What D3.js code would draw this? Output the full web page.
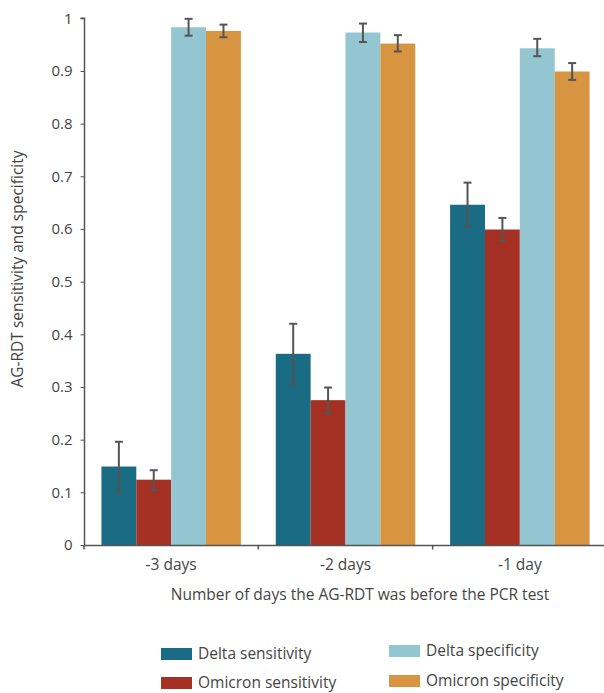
<!DOCTYPE html>
<html><head><meta charset="utf-8">
<script src="https://cdn.jsdelivr.net/npm/d3@7"></script>
<style>body{margin:0;background:#fff}svg{display:block}text{font-family:"Open Sans","Noto Sans",sans-serif;fill:#444}</style>
</head><body><svg id="c" width="604" height="693"></svg>
<script>
const categories = ["-3 days", "-2 days", "-1 day"];
const seriesNames = ["Delta sensitivity", "Omicron sensitivity", "Delta specificity", "Omicron specificity"];
const seriesColors = ["#1a6b84", "#a53024", "#93c6d0", "#d89541"];
const deltaSens = [0.149, 0.363, 0.646];
const deltaSensLo = [0.101, 0.305, 0.604];
const deltaSensHi = [0.196, 0.420, 0.688];
const omicronSens = [0.124, 0.275, 0.599];
const omicronSensLo = [0.104, 0.250, 0.578];
const omicronSensHi = [0.142, 0.299, 0.621];
const deltaSpec = [0.983, 0.973, 0.943];
const deltaSpecLo = [0.967, 0.955, 0.928];
const deltaSpecHi = [0.999, 0.990, 0.961];
const omicronSpec = [0.976, 0.952, 0.899];
const omicronSpecLo = [0.964, 0.937, 0.883];
const omicronSpecHi = [0.988, 0.968, 0.915];
const yTicks = [0, 0.1, 0.2, 0.3, 0.4, 0.5, 0.6, 0.7, 0.8, 0.9, 1];
const yTickLabels = ["0", "0.1", "0.2", "0.3", "0.4", "0.5", "0.6", "0.7", "0.8", "0.9", "1"];

const vals = [deltaSens, omicronSens, deltaSpec, omicronSpec];
const los = [deltaSensLo, omicronSensLo, deltaSpecLo, omicronSpecLo];
const his = [deltaSensHi, omicronSensHi, deltaSpecHi, omicronSpecHi];

const svg = d3.select("#c");
const x0 = d3.scaleBand().domain(categories).range([84, 607]).paddingInner(0).paddingOuter(0);
const x1 = d3.scaleBand().domain(seriesNames).range([0, x0.bandwidth()]).paddingInner(0).paddingOuter(0.5);
const y = d3.scaleLinear().domain([0, 1]).range([545, 18.3]);

// bars
const data = [];
categories.forEach((c, i) => seriesNames.forEach((s, j) => data.push({c, s, j, v: vals[j][i], lo: los[j][i], hi: his[j][i]})));
svg.append("g").selectAll("rect").data(data).join("rect")
  .attr("x", d => x0(d.c) + x1(d.s))
  .attr("width", x1.bandwidth())
  .attr("y", d => y(d.v))
  .attr("height", d => y(0) - y(d.v))
  .attr("fill", d => seriesColors[d.j]);

// error bars
const eb = svg.append("g").attr("stroke", "#555").attr("stroke-width", 2);
data.forEach(d => {
  const cx = x0(d.c) + x1(d.s) + x1.bandwidth() / 2;
  eb.append("line").attr("x1", cx).attr("x2", cx).attr("y1", y(d.hi)).attr("y2", y(d.lo));
  eb.append("line").attr("x1", cx - 4).attr("x2", cx + 4).attr("y1", y(d.hi)).attr("y2", y(d.hi));
  eb.append("line").attr("x1", cx - 4).attr("x2", cx + 4).attr("y1", y(d.lo)).attr("y2", y(d.lo));
});

// y axis
const yAxis = d3.axisLeft(y).tickValues(yTicks).tickFormat((d, i) => yTickLabels[i]).tickSize(4).tickPadding(8);
const ga = svg.append("g").attr("transform", "translate(84.5,0)").call(yAxis);
ga.select(".domain").attr("stroke", "#555").attr("stroke-width", 1.5).attr("d", `M-4,${y(1)}H0V${y(0)}`);
ga.selectAll(".tick line").attr("stroke", "#555");
ga.selectAll(".tick text").attr("font-size", 15).style("fill", "#444");

// x axis
const gx = svg.append("g").attr("transform", `translate(0,${y(0) + 0.5})`);
gx.append("line").attr("x1", 84).attr("x2", 604).attr("stroke", "#555").attr("stroke-width", 1.5);
const tickPos = categories.map(c => x0(c)).concat([x0.range()[1]]);
gx.selectAll("line.t").data(tickPos).join("line").attr("class", "t")
  .attr("x1", d => d).attr("x2", d => d).attr("y1", 0).attr("y2", 4).attr("stroke", "#555").attr("stroke-width", 1.5);
gx.selectAll("text").data(categories).join("text")
  .attr("x", d => x0(d) + x0.bandwidth() / 2).attr("y", 24).attr("text-anchor", "middle").attr("font-size", 15.5).text(d => d);

// axis titles
svg.append("text").attr("x", 360).attr("y", 600).attr("text-anchor", "middle").attr("font-size", 15.5)
  .text("Number of days the AG-RDT was before the PCR test");
svg.append("text").attr("transform", "translate(23,269) rotate(-90)").attr("text-anchor", "middle").attr("font-size", 15.5)
  .text("AG-RDT sensitivity and specificity");

// legend
const legendPos = [[161, 648], [161, 677], [389, 645], [389, 675]];
const lg = svg.append("g");
seriesNames.forEach((s, j) => {
  const [lx, ly] = legendPos[j];
  lg.append("rect").attr("x", lx).attr("y", ly).attr("width", 31).attr("height", 12).attr("fill", seriesColors[j]);
  lg.append("text").attr("x", lx + 37).attr("y", ly + 11).attr("font-size", 15.5).text(s);
});
</script></body></html>
